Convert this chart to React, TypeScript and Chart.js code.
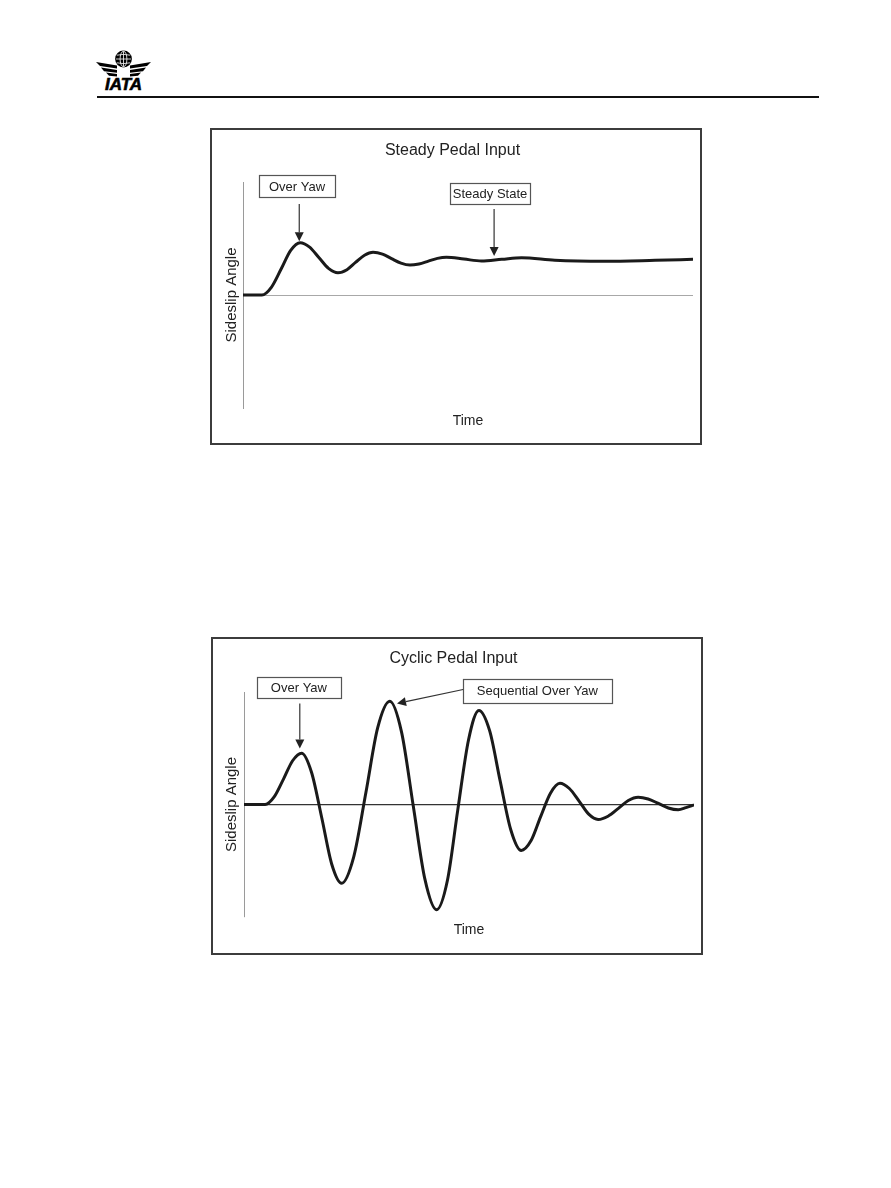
import React, { useEffect, useRef } from "react";
import { Chart, registerables } from "chart.js";

Chart.register(...registerables);

const FONT = '"Liberation Sans", Arial, Helvetica, sans-serif';

// ---- Data: Steady Pedal Input (time in % of axis, sideslip in % of half-range) ----
const steadyTime = [0, 4.2, 6.3, 8.5, 10.6, 12.7, 14.8, 16.9, 19.0, 21.1, 23.1, 25.0, 27.0, 28.9, 31.0, 33.0, 35.1, 37.1, 39.1, 41.2, 43.2, 45.2, 49.1, 53.0, 57.5, 61.9, 69.3, 80.4, 91.6, 100];
const steadySideslip = [0, 0, 6.8, 23.2, 39.5, 46.3, 42.4, 33.0, 23.6, 19.7, 22.4, 28.8, 35.2, 37.8, 36.2, 32.2, 28.2, 26.5, 27.5, 30.0, 32.4, 33.4, 31.8, 30.1, 31.6, 33.0, 30.7, 29.8, 30.7, 31.6];

// ---- Data: Cyclic Pedal Input ----
const cyclicTime = [0, 4.7, 6.7, 8.8, 10.8, 12.8, 15.0, 17.3, 19.5, 21.7, 24.4, 27.1, 29.7, 32.4, 35.0, 37.6, 40.2, 42.8, 45.2, 47.5, 49.9, 52.2, 54.6, 56.9, 59.3, 61.6, 63.8, 65.9, 68.1, 70.2, 72.3, 74.5, 76.6, 78.7, 80.9, 83.2, 85.4, 87.6, 89.8, 92.1, 94.3, 96.5, 98.2, 100];
const cyclicSideslip = [0, 0, 6.7, 22.8, 38.9, 45.6, 28.7, -12.2, -53.1, -70.0, -46.3, 10.9, 68.1, 91.8, 64.6, -0.9, -66.4, -93.6, -67.6, -5.0, 57.6, 83.6, 65.4, 21.4, -22.7, -40.9, -32.1, -11.0, 10.1, 18.9, 14.2, 2.8, -8.6, -13.3, -10.4, -3.4, 3.6, 6.5, 4.9, 0.9, -3.1, -4.7, -2.8, -0.3];

// ---- Labels ----
const steadyTitle = "Steady Pedal Input";
const cyclicTitle = "Cyclic Pedal Input";
const xAxisLabel = "Time";
const yAxisLabel = "Sideslip Angle";

type Note = {
  text: string;
  box: [number, number];
  w: number;
  h: number;
  tail: [number, number];
  tip: [number, number];
};

const steadyNotes: Note[] = [
  { text: "Over Yaw", box: [12.0, 96.5], w: 76, h: 22, tail: [12.5, 80.5], tip: [12.5, 47.5] },
  { text: "Steady State", box: [54.9, 89.8], w: 80, h: 21, tail: [55.8, 76.1], tip: [55.8, 34.5] },
];

const cyclicNotes: Note[] = [
  { text: "Over Yaw", box: [12.2, 104.4], w: 84, h: 21, tail: [12.4, 89.8], tip: [12.4, 49.8] },
  { text: "Sequential Over Yaw", box: [65.2, 101.3], w: 149, h: 24, tail: [48.7, 102.2], tip: [34.0, 89.8] },
];

function makeNotePlugin(notes: Note[]) {
  return {
    id: "notes",
    afterDraw(chart: any) {
      const { ctx } = chart;
      const xs = chart.scales.x;
      const ys = chart.scales.y;
      ctx.save();
      for (const n of notes) {
        const cx = xs.getPixelForValue(n.box[0]);
        const cy = ys.getPixelForValue(n.box[1]);
        const left = Math.round(cx - n.w / 2) + 0.5;
        const top = Math.round(cy - n.h / 2) + 0.5;
        ctx.fillStyle = "#ffffff";
        ctx.fillRect(left, top, n.w, n.h);
        ctx.strokeStyle = "#555555";
        ctx.lineWidth = 1.2;
        ctx.strokeRect(left, top, n.w, n.h);
        ctx.fillStyle = "#222222";
        ctx.font = `13px ${FONT}`;
        ctx.textAlign = "center";
        ctx.textBaseline = "middle";
        ctx.fillText(n.text, cx, cy + 1);

        const x1 = xs.getPixelForValue(n.tail[0]);
        const y1 = ys.getPixelForValue(n.tail[1]);
        const x2 = xs.getPixelForValue(n.tip[0]);
        const y2 = ys.getPixelForValue(n.tip[1]);
        const ang = Math.atan2(y2 - y1, x2 - x1);
        const hl = 9;
        const hw = 4.5;
        const bx = x2 - hl * Math.cos(ang);
        const by = y2 - hl * Math.sin(ang);
        ctx.strokeStyle = "#333333";
        ctx.lineWidth = 1.2;
        ctx.beginPath();
        ctx.moveTo(x1, y1);
        ctx.lineTo(bx, by);
        ctx.stroke();
        ctx.fillStyle = "#222222";
        ctx.beginPath();
        ctx.moveTo(x2, y2);
        ctx.lineTo(bx + hw * Math.sin(ang), by - hw * Math.cos(ang));
        ctx.lineTo(bx - hw * Math.sin(ang), by + hw * Math.cos(ang));
        ctx.closePath();
        ctx.fill();
      }
      ctx.restore();
    },
  };
}

type ChartProps = {
  title: string;
  time: number[];
  values: number[];
  notes: Note[];
  width: number;
  height: number;
  zeroColor: string;
  zeroWidth: number;
  titlePad: [number, number];
  yTitlePad: number;
  xTitlePad: number;
  yWidth: number;
  xHeight: number;
  rightPad: number;
};

function SideslipChart(p: ChartProps) {
  const ref = useRef<HTMLCanvasElement | null>(null);
  useEffect(() => {
    if (!ref.current) return;
    const chart = new Chart(ref.current, {
      type: "line",
      data: {
        datasets: [
          {
            data: p.time.map((t, i) => ({ x: t, y: p.values[i] })),
            borderColor: "#1a1a1a",
            borderWidth: 3,
            pointRadius: 0,
            fill: false,
            cubicInterpolationMode: "monotone",
          },
        ],
      },
      options: {
        animation: false,
        responsive: false,
        devicePixelRatio: 1,
        layout: { padding: { left: 0, right: p.rightPad, top: 0, bottom: 0 } },
        plugins: {
          legend: { display: false },
          tooltip: { enabled: false },
          title: {
            display: true,
            text: p.title,
            color: "#222222",
            font: { family: FONT, size: 16, weight: "normal" },
            padding: { top: p.titlePad[0], bottom: p.titlePad[1] },
          },
        },
        scales: {
          x: {
            type: "linear",
            min: 0,
            max: 100,
            ticks: { display: false },
            grid: { display: false },
            border: { display: false },
            title: {
              display: true,
              text: xAxisLabel,
              color: "#222222",
              font: { family: FONT, size: 14 },
              padding: { top: 0, bottom: p.xTitlePad },
            },
            afterFit: (s: any) => {
              s.height = p.xHeight;
            },
          },
          y: {
            type: "linear",
            min: -100,
            max: 100,
            ticks: { display: false, stepSize: 100 },
            grid: {
              drawTicks: false,
              color: (c: any) => (c.tick && c.tick.value === 0 ? p.zeroColor : "rgba(0,0,0,0)"),
              lineWidth: p.zeroWidth,
            },
            border: { display: true, color: "#9a9a9a", width: 1 },
            title: {
              display: true,
              text: yAxisLabel,
              color: "#222222",
              font: { family: FONT, size: 15 },
              padding: { top: p.yTitlePad, bottom: 0 },
            },
            afterFit: (s: any) => {
              s.width = p.yWidth;
            },
          },
        },
      } as any,
      plugins: [makeNotePlugin(p.notes)],
    });
    return () => chart.destroy();
  }, []);
  return <canvas ref={ref} width={p.width} height={p.height} style={{ display: "block" }} />;
}

function Logo() {
  const left = [
    [96, 62, 117, 65.5, 117, 68.5, 100, 66],
    [101, 67.5, 117, 70, 117, 72.8, 104, 71.2],
    [106, 72.5, 117, 74, 117, 76.5, 109, 75.8],
  ];
  const toPts = (a: number[], mirror: boolean) => {
    const out: string[] = [];
    for (let i = 0; i < a.length; i += 2) {
      const x = mirror ? 247 - a[i] : a[i];
      out.push(`${x},${a[i + 1]}`);
    }
    return out.join(" ");
  };
  return (
    <svg
      width={70}
      height={55}
      viewBox="90 40 70 55"
      style={{ position: "absolute", left: 90, top: 40 }}
    >
      {left.map((s, i) => (
        <polygon key={"l" + i} points={toPts(s, false)} fill="#000" />
      ))}
      {left.map((s, i) => (
        <polygon key={"r" + i} points={toPts(s, true)} fill="#000" />
      ))}
      <circle cx={123.5} cy={59} r={8.4} fill="#000" />
      <g stroke="#fff" strokeWidth={0.8} fill="none">
        <ellipse cx={123.5} cy={59} rx={3.4} ry={7.8} />
        <line x1={123.5} y1={51.2} x2={123.5} y2={66.8} />
        <line x1={116} y1={59} x2={131} y2={59} />
        <path d="M116.8 55.2 Q123.5 53.6 130.2 55.2" />
        <path d="M116.8 62.8 Q123.5 64.4 130.2 62.8" />
      </g>
      <text
        x={123.5}
        y={90}
        textAnchor="middle"
        fontFamily={FONT}
        fontWeight="bold"
        fontStyle="italic"
        fontSize={17}
        fill="#000"
        stroke="#000"
        strokeWidth={0.6}
      >
        IATA
      </text>
    </svg>
  );
}

export default function App() {
  return (
    <div
      style={{
        position: "absolute",
        left: 0,
        top: 0,
        width: 891,
        height: 1188,
        background: "#ffffff",
        overflow: "hidden",
        fontFamily: FONT,
      }}
    >
      <Logo />
      <div style={{ position: "absolute", left: 97, top: 96, width: 722, height: 2, background: "#111" }} />

      <div
        style={{
          position: "absolute",
          left: 210,
          top: 128,
          width: 488,
          height: 313,
          border: "2px solid #3c3c3c",
        }}
      >
        <SideslipChart
          title={steadyTitle}
          time={steadyTime}
          values={steadySideslip}
          notes={steadyNotes}
          width={488}
          height={313}
          zeroColor="#a8a8a8"
          zeroWidth={1}
          titlePad={[11.4, 21.4]}
          yTitlePad={11}
          xTitlePad={13.6}
          yWidth={31}
          xHeight={35}
          rightPad={7}
        />
      </div>

      <div
        style={{
          position: "absolute",
          left: 211,
          top: 637,
          width: 488,
          height: 314,
          border: "2px solid #3c3c3c",
        }}
      >
        <SideslipChart
          title={cyclicTitle}
          time={cyclicTime}
          values={cyclicSideslip}
          notes={cyclicNotes}
          width={488}
          height={314}
          zeroColor="#333333"
          zeroWidth={1.2}
          titlePad={[10.4, 23.4]}
          yTitlePad={10}
          xTitlePad={14.6}
          yWidth={31}
          xHeight={36}
          rightPad={7}
        />
      </div>
    </div>
  );
}
